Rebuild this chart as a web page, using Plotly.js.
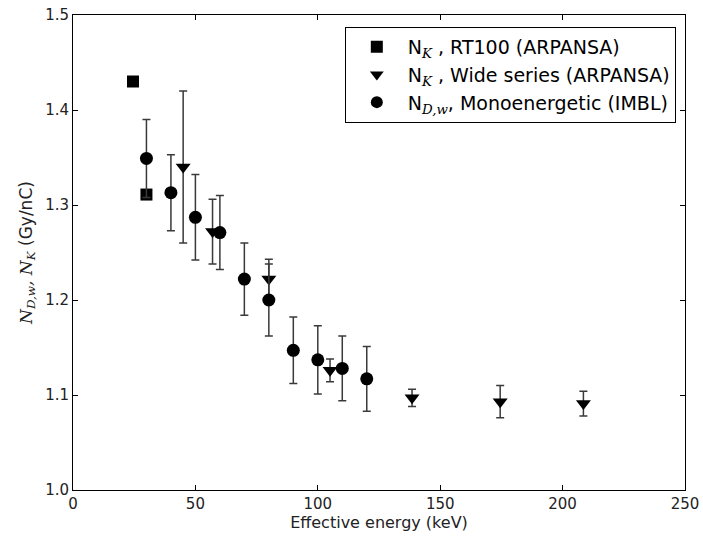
<!DOCTYPE html>
<html>
<head>
<meta charset="utf-8">
<script src="https://cdn.plot.ly/plotly-3.0.1.min.js"></script>
<style>html,body{margin:0;padding:0;background:#fff;}#chart{width:703px;height:538px;}</style>
</head>
<body>
<div id="chart"></div>
<script>
// RT100 (ARPANSA) N_K
const rtEnergy = [24.5, 30];
const rtValue = [1.430, 1.311];

// Wide series (ARPANSA) N_K
const wideEnergy = [45, 57, 80, 105, 138.5, 174.5, 208.5];
const wideValue = [1.340, 1.272, 1.222, 1.126, 1.097, 1.093, 1.091];
const wideErr = [0.080, 0.034, 0.021, 0.012, 0.009, 0.017, 0.013];

// Monoenergetic (IMBL) N_D,w
const monoEnergy = [30, 40, 50, 60, 70, 80, 90, 100, 110, 120];
const monoValue = [1.349, 1.313, 1.287, 1.271, 1.222, 1.200, 1.147, 1.137, 1.128, 1.117];
const monoErr = [0.041, 0.040, 0.045, 0.039, 0.038, 0.038, 0.035, 0.036, 0.034, 0.034];

const xTicks = [0, 50, 100, 150, 200, 250];
const yTicks = [1.0, 1.1, 1.2, 1.3, 1.4, 1.5];

const serif = 'font-family:DejaVu Serif;font-style:italic';
const errStyle = {type: 'data', visible: true, color: '#3a3a3a', thickness: 1.5, width: 4};

const traces = [
  {
    x: rtEnergy, y: rtValue, type: 'scatter', mode: 'markers',
    name: 'N<sub><span style="' + serif + '">K</span></sub> , RT100 (ARPANSA)',
    marker: {symbol: 'square', size: 12, color: '#000'}
  },
  {
    x: wideEnergy, y: wideValue, type: 'scatter', mode: 'markers',
    name: 'N<sub><span style="' + serif + '">K</span></sub> , Wide series (ARPANSA)',
    marker: {symbol: 'triangle-down', size: 13, color: '#000'},
    error_y: Object.assign({array: wideErr}, errStyle)
  },
  {
    x: monoEnergy, y: monoValue, type: 'scatter', mode: 'markers',
    name: 'N<sub><span style="' + serif + '">D,w</span></sub>, Monoenergetic (IMBL)',
    marker: {symbol: 'circle', size: 13, color: '#000'},
    error_y: Object.assign({array: monoErr}, errStyle)
  }
];

const axisCommon = {
  showgrid: false, zeroline: false, showline: true, linecolor: '#000', linewidth: 1,
  mirror: 'ticks', ticks: 'inside', ticklen: 5, tickwidth: 1, tickcolor: '#000',
  tickfont: {family: 'DejaVu Sans', size: 15, color: '#222'}
};

const layout = {
  width: 703, height: 538,
  margin: {l: 73, r: 18, t: 15, b: 48},
  paper_bgcolor: '#fff', plot_bgcolor: '#fff',
  showlegend: true,
  legend: {
    x: 0.985, y: 0.975, xanchor: 'right', yanchor: 'top',
    bordercolor: '#000', borderwidth: 1, bgcolor: '#fff',
    font: {family: 'DejaVu Sans', size: 19, color: '#000'},
    tracegroupgap: 0, itemsizing: 'constant', itemwidth: 52
  },
  xaxis: Object.assign({}, axisCommon, {
    range: [0, 250], tickvals: xTicks, ticktext: xTicks.map(String),
    title: {text: 'Effective energy (keV)', font: {family: 'DejaVu Sans', size: 16, color: '#222'}, standoff: 3}
  }),
  yaxis: Object.assign({}, axisCommon, {
    range: [1.0, 1.5], tickvals: yTicks, ticktext: yTicks.map(v => v.toFixed(1)),
    title: {
      text: '<span style="' + serif + '">N<sub>D,w</sub>, N<sub>K</sub></span> (Gy/nC)',
      font: {family: 'DejaVu Sans', size: 17, color: '#222'}, standoff: 8
    }
  })
};

Plotly.newPlot('chart', traces, layout, {displayModeBar: false, staticPlot: true});
</script>
</body>
</html>
